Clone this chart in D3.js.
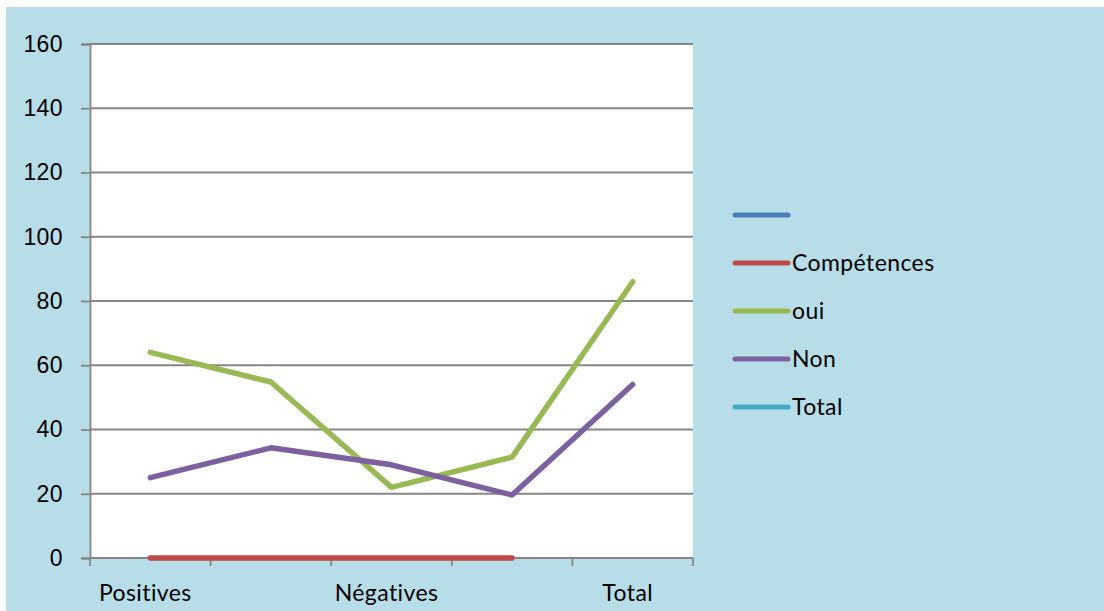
<!DOCTYPE html>
<html>
<head>
<meta charset="utf-8">
<script src="https://cdn.jsdelivr.net/npm/d3@7"></script>
<style>
  html, body { margin: 0; padding: 0; background: #fff; }
  svg { display: block; font-family: Lato, "Open Sans", sans-serif; }
  svg text { letter-spacing: 0.4px; }
</style>
</head>
<body>
<svg id="chart" width="1104" height="611"></svg>
<script>
// categories (only some carry a label)
const categoryLabels = ['Positives', '', 'Négatives', '', 'Total'];
const seriesNames = ['', 'Compétences', 'oui', 'Non', 'Total'];
const seriesColours = ['#4a7ebb', '#be4b48', '#98b954', '#7d60a0', '#46aac5'];
// values per series, null = no point
const blankValues = [null, null, null, null, null];
const competencesValues = [0, 0, 0, 0, null];
const ouiValues = [64, 54.8, 22, 31.4, 86];
const nonValues = [25, 34.3, 29, 19.6, 54];
const totalValues = [null, null, null, null, null];
const yTicks = [0, 20, 40, 60, 80, 100, 120, 140, 160];

const allValues = [blankValues, competencesValues, ouiValues, nonValues, totalValues];

const svg = d3.select('#chart');
const plot = { left: 90, right: 693, top: 44, bottom: 558 };
const axisColour = '#868686';
const fontSize = '23px';

svg.append('rect')
  .attr('x', 6).attr('y', 7)
  .attr('width', 1098).attr('height', 604)
  .attr('fill', '#b7dde8');

svg.append('rect')
  .attr('x', plot.left).attr('y', plot.top)
  .attr('width', plot.right - plot.left).attr('height', plot.bottom - plot.top)
  .attr('fill', '#fff');

const x = d3.scaleBand()
  .domain(d3.range(categoryLabels.length))
  .range([plot.left, plot.right])
  .paddingInner(0).paddingOuter(0);

const y = d3.scaleLinear()
  .domain([0, 160])
  .range([plot.bottom, plot.top]);

// horizontal gridlines
svg.append('g')
  .selectAll('line')
  .data(yTicks.filter(d => d > 0))
  .join('line')
  .attr('x1', plot.left).attr('x2', plot.right)
  .attr('y1', d => y(d)).attr('y2', d => y(d))
  .attr('stroke', axisColour).attr('stroke-width', 1.8);

// y axis
const yAxis = svg.append('g')
  .attr('transform', `translate(${plot.left},0)`)
  .call(d3.axisLeft(y).tickValues(yTicks).tickSize(9).tickPadding(18));
yAxis.select('.domain').attr('stroke', axisColour).attr('stroke-width', 1.8);
yAxis.selectAll('.tick line').attr('stroke', axisColour).attr('stroke-width', 1.8);
yAxis.selectAll('.tick text')
  .attr('fill', '#000')
  .style('font-size', fontSize);

// x axis: ticks sit on the band edges
const xAxis = svg.append('g');
xAxis.append('line')
  .attr('x1', plot.left).attr('x2', plot.right)
  .attr('y1', plot.bottom).attr('y2', plot.bottom)
  .attr('stroke', axisColour).attr('stroke-width', 1.8);
const edges = x.domain().map(d => x(d)).concat([plot.right]);
xAxis.selectAll('line.tick')
  .data(edges)
  .join('line')
  .attr('class', 'tick')
  .attr('x1', d => d).attr('x2', d => d)
  .attr('y1', plot.bottom).attr('y2', plot.bottom + 8)
  .attr('stroke', axisColour).attr('stroke-width', 1.8);
xAxis.selectAll('text')
  .data(categoryLabels.map((label, i) => ({ label, i })).filter(d => d.label))
  .join('text')
  .attr('x', d => x(d.i) + x.bandwidth() / 2 - 5)
  .attr('y', 601)
  .attr('text-anchor', 'middle')
  .style('font-size', fontSize)
  .text(d => d.label);

// series lines
const line = d3.line()
  .defined(d => d.v !== null)
  .x(d => x(d.i) + x.bandwidth() / 2)
  .y(d => y(d.v));

svg.append('g')
  .selectAll('path')
  .data(allValues.map((vals, s) => ({ s, pts: vals.map((v, i) => ({ v, i })) })))
  .join('path')
  .attr('d', d => line(d.pts))
  .attr('fill', 'none')
  .attr('stroke', d => seriesColours[d.s])
  .attr('stroke-width', 5.5)
  .attr('stroke-linecap', 'round')
  .attr('stroke-linejoin', 'round');

// legend
const legendY = d3.scalePoint().domain(d3.range(seriesNames.length)).range([215, 407]);
const legend = svg.append('g')
  .selectAll('g')
  .data(seriesNames.map((name, s) => ({ name, s })))
  .join('g')
  .attr('transform', d => `translate(735,${legendY(d.s)})`);
legend.append('line')
  .attr('x1', 0).attr('x2', 53)
  .attr('stroke', d => seriesColours[d.s])
  .attr('stroke-width', 5)
  .attr('stroke-linecap', 'round');
legend.append('text')
  .attr('x', 57)
  .attr('dy', '0.35em')
  .style('font-size', fontSize)
  .text(d => d.name);
</script>
</body>
</html>
